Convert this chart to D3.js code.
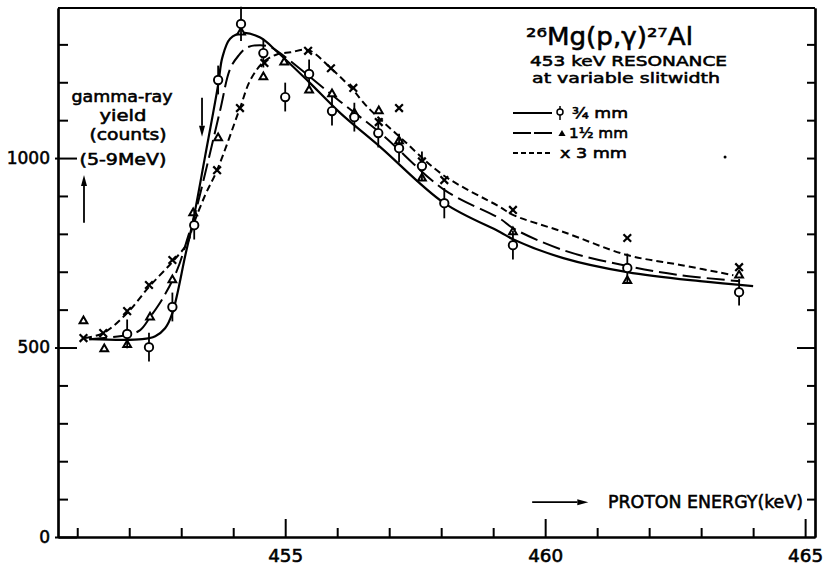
<!DOCTYPE html>
<html>
<head>
<meta charset="utf-8">
<script src="https://cdn.jsdelivr.net/npm/d3@7"></script>
<style>
  body { margin: 0; background: #fff; }
  svg text { font-family: "DejaVu Sans", sans-serif; fill: #000; stroke: #000; stroke-width: 0.55; }
  .axis .domain { stroke: #000; stroke-width: 2.2; }
  .axis .tick line { stroke: #000; stroke-width: 2; }
</style>
</head>
<body>
<svg id="chart" width="823" height="567"></svg>
<script>
// ------ Data (energy in keV, yield in counts)
var circleE = [451.96, 452.38, 452.83, 453.25, 453.71, 454.15, 454.58, 455.0, 455.46, 455.9, 456.33, 456.79, 457.19, 457.63, 458.06, 459.38, 461.58, 463.73];
var circleY = [536, 501, 607, 823, 1206, 1354, 1277, 1161, 1222, 1124, 1108, 1066, 1026, 979, 881, 770, 710, 646];
var circleErr = [38, 38, 38, 38, 38, 45, 38, 38, 38, 38, 38, 38, 38, 38, 40, 38, 38, 35];

var triE = [451.12, 451.52, 451.96, 452.4, 452.83, 453.23, 453.71, 454.15, 454.58, 454.98, 455.46, 455.9, 456.33, 456.8, 457.19, 457.63, 459.38, 461.58, 463.73];
var triY = [570, 496, 507, 580, 678, 855, 1053, 1332, 1214, 1253, 1179, 1169, 1118, 1124, 1045, 947, 805, 676, 691];

var crossE = [451.12, 451.5, 451.96, 452.38, 452.83, 453.69, 454.13, 454.6, 455.44, 455.88, 456.31, 456.8, 457.19, 457.63, 458.06, 459.38, 461.58, 463.73];
var crossY = [525, 538, 596, 665, 731, 968, 1132, 1251, 1283, 1237, 1185, 1095, 1132, 991, 942, 863, 789, 712];

// fitted curves, 3/4 mm (solid), 1 1/2 mm (long dash), 3 mm (short dash)
var solidE = [451.23, 452.25, 452.5, 452.69, 452.83, 453.08, 453.23, 453.46, 453.71, 453.79, 453.94, 454.19, 454.52, 454.85, 455.44, 456.05, 456.83, 458.06, 459.13, 459.38, 460.35, 461.58, 462.98, 464.0];
var solidY = [522, 522, 530, 551, 591, 744, 836, 1005, 1193, 1265, 1315, 1330, 1318, 1280, 1203, 1120, 1029, 881, 805, 786, 736, 699, 675, 662];

var longE = [451.23, 451.96, 452.21, 452.4, 452.65, 452.92, 453.13, 453.27, 453.5, 453.75, 453.94, 454.1, 454.27, 454.52, 454.71, 454.9, 455.29, 456.05, 456.83, 458.06, 459.13, 459.38, 460.35, 461.58, 462.6, 463.75];
var longY = [522, 533, 546, 580, 631, 704, 792, 855, 982, 1127, 1235, 1270, 1292, 1298, 1293, 1277, 1235, 1150, 1066, 916, 840, 815, 757, 715, 691, 675];

var shortE = [451.15, 451.5, 451.96, 452.38, 452.83, 453.12, 453.23, 453.46, 453.69, 454.13, 454.33, 454.58, 454.85, 455.1, 455.44, 455.88, 456.29, 456.58, 457.21, 458.04, 459.13, 459.38, 460.35, 461.58, 462.6, 463.62];
var shortY = [525, 538, 591, 660, 726, 776, 823, 902, 968, 1132, 1206, 1253, 1274, 1279, 1285, 1237, 1182, 1135, 1055, 955, 871, 850, 805, 744, 718, 691];

// ------ Axis ticks
var xMinorTicks = [451, 452, 453, 454, 456, 457, 458, 459, 461, 462, 463, 464];
var xMajorTicks = [455, 460, 465];
var yMinorTicks = [100, 200, 300, 400, 600, 700, 800, 900, 1100, 1200, 1300];
var yMajorTicks = [0, 500, 1000];
var yRightTicks = [100, 200, 300, 400, 600, 700, 800, 900, 1000, 1100, 1200, 1300];

// arrows (energy, yield) and the stray speck of the original plate
var upArrow = [[451.13, 829], [451.13, 955]];
var downArrow = [[453.40, 1159], [453.40, 1056]];
var rightArrow = [[459.75, 92], [460.83, 92]];
var specks = [[463.46, 1003]];

var svg = d3.select("#chart");
svg.append("rect").attr("width", 823).attr("height", 567).attr("fill", "#fff");

var x = d3.scaleLinear().domain([450.63, 465.19]).range([58, 815]);
var y = d3.scaleLinear().domain([0, 1396]).range([537, 8]);

// ------ Axes (all ticks point into the frame)
svg.append("g").attr("class", "axis").attr("transform", "translate(0,537)")
  .call(d3.axisBottom(x).tickValues(xMinorTicks).tickSize(-9).tickSizeOuter(0).tickFormat(""));
svg.append("g").attr("class", "axis").attr("transform", "translate(0,537)")
  .call(d3.axisBottom(x).tickValues(xMajorTicks).tickSize(-18).tickSizeOuter(0).tickPadding(13).tickFormat(d3.format("d")))
  .selectAll("text").style("font-size", "17px").attr("textLength", 35).attr("lengthAdjust", "spacingAndGlyphs");

svg.append("g").attr("class", "axis").attr("transform", "translate(58,0)")
  .call(d3.axisLeft(y).tickValues(yMinorTicks).tickSize(-10).tickSizeOuter(0).tickFormat(""));
var yMaj = svg.append("g").attr("class", "axis").attr("transform", "translate(58,0)")
  .call(d3.axisLeft(y).tickValues(yMajorTicks).tickSize(-19).tickSizeOuter(0).tickPadding(8).tickFormat(d3.format("d")));
yMaj.selectAll("text").style("font-size", "17px");
yMaj.selectAll(".tick line").attr("x1", -3);

svg.append("g").attr("class", "axis").attr("transform", "translate(815,0)")
  .call(d3.axisRight(y).tickValues(yRightTicks).tickSize(-8).tickSizeOuter(0).tickFormat(""));
svg.append("g").attr("class", "axis").attr("transform", "translate(815,0)")
  .call(d3.axisRight(y).tickValues([500]).tickSize(-18).tickSizeOuter(0).tickFormat(""));

// top of the frame
svg.append("line")
  .attr("x1", x.range()[0]).attr("x2", x.range()[1])
  .attr("y1", y.range()[1]).attr("y2", y.range()[1])
  .attr("stroke", "#000").attr("stroke-width", 2.2);

// ------ Curves
var line = d3.line()
  .x(function(d) { return x(d[0]); })
  .y(function(d) { return y(d[1]); })
  .curve(d3.curveCatmullRom.alpha(0.5));

function pairs(a, b) { return a.map(function(v, i) { return [v, b[i]]; }); }

svg.append("path").datum(pairs(shortE, shortY))
  .attr("d", line).attr("fill", "none").attr("stroke", "#000")
  .attr("stroke-width", 2).attr("stroke-dasharray", "7,4");
svg.append("path").datum(pairs(longE, longY))
  .attr("d", line).attr("fill", "none").attr("stroke", "#000")
  .attr("stroke-width", 2).attr("stroke-dasharray", "18,6");
svg.append("path").datum(pairs(solidE, solidY))
  .attr("d", line).attr("fill", "none").attr("stroke", "#000")
  .attr("stroke-width", 2.2);

// ------ Points
var triSym = d3.symbol().type(d3.symbolTriangle).size(26);
var xSym = d3.symbol().type(d3.symbolX).size(40);

svg.selectAll(".tri").data(pairs(triE, triY)).enter().append("path")
  .attr("class", "tri")
  .attr("transform", function(d) { return "translate(" + x(d[0]) + "," + y(d[1]) + ")"; })
  .attr("d", triSym).attr("fill", "#fff").attr("stroke", "#000").attr("stroke-width", 2);

svg.selectAll(".cross").data(pairs(crossE, crossY)).enter().append("path")
  .attr("class", "cross")
  .attr("transform", function(d) { return "translate(" + x(d[0]) + "," + y(d[1]) + ")"; })
  .attr("d", xSym).attr("fill", "none").attr("stroke", "#000").attr("stroke-width", 2.2);

var circData = circleE.map(function(e, i) { return {e: e, v: circleY[i], err: circleErr[i]}; });
svg.selectAll(".ebar").data(circData).enter().append("line")
  .attr("class", "ebar")
  .attr("x1", function(d) { return x(d.e); }).attr("x2", function(d) { return x(d.e); })
  .attr("y1", function(d) { return y(d.v + d.err); }).attr("y2", function(d) { return y(d.v - d.err); })
  .attr("stroke", "#000").attr("stroke-width", 1.8);
svg.selectAll(".dot").data(circData).enter().append("circle")
  .attr("class", "dot")
  .attr("cx", function(d) { return x(d.e); }).attr("cy", function(d) { return y(d.v); })
  .attr("r", 4.2).attr("fill", "#fff").attr("stroke", "#000").attr("stroke-width", 1.9);

svg.selectAll(".speck").data(specks).enter().append("circle")
  .attr("cx", function(d) { return x(d[0]); }).attr("cy", function(d) { return y(d[1]); })
  .attr("r", 1.5).attr("fill", "#000");

// ------ Arrows
function arrow(p, headLen) {
  var x0 = x(p[0][0]), y0 = y(p[0][1]), x1 = x(p[1][0]), y1 = y(p[1][1]);
  var a = Math.atan2(y1 - y0, x1 - x0);
  var bx = x1 - headLen * Math.cos(a), by = y1 - headLen * Math.sin(a);
  svg.append("line").attr("x1", x0).attr("y1", y0).attr("x2", bx).attr("y2", by)
    .attr("stroke", "#000").attr("stroke-width", 1.8);
  var w = 3;
  svg.append("path")
    .attr("d", "M" + x1 + "," + y1 +
      "L" + (bx + w * Math.sin(a)) + "," + (by - w * Math.cos(a)) +
      "L" + (bx - w * Math.sin(a)) + "," + (by + w * Math.cos(a)) + "Z")
    .attr("fill", "#000");
}
arrow(upArrow, 11);
arrow(downArrow, 11);
arrow(rightArrow, 11);

// ------ Texts
// several lines in one text element, each tspan placed on its own
function block(lines, size) {
  var t = svg.append("text").style("font-size", size + "px");
  lines.forEach(function(l) {
    var s = t.append("tspan").attr("x", l.x).attr("y", l.y)
      .attr("text-anchor", l.anchor || "start").text(l.text);
    if (l.size) s.style("font-size", l.size + "px");
    if (l.len) s.attr("textLength", l.len).attr("lengthAdjust", "spacingAndGlyphs");
  });
  return t;
}

block([
  {text: "gamma-ray", x: 122, y: 102, anchor: "middle", len: 101},
  {text: "yield", x: 123, y: 121, anchor: "middle", len: 47},
  {text: "(counts)", x: 128, y: 140, anchor: "middle", len: 77},
  {text: "(5-9MeV)", x: 123, y: 165, anchor: "middle", len: 87}
], 15.5);

block([{text: "PROTON ENERGY(keV)", x: 608, y: 508, len: 195}], 17.5);

// reaction, with the mass numbers as superscript characters
block([{text: "\u00b2\u2076Mg(p,\u03b3)\u00b2\u2077Al", x: 526, y: 45, len: 167}], 24);

block([{text: "453 keV  RESONANCE", x: 530, y: 66, len: 197}], 14.5);
block([{text: "at variable  slitwidth", x: 532, y: 83, len: 188}], 14.5);

// legend
var legendRows = [
  {y: 113, dash: null, text: "\u00be mm", tx: 572, len: 56},
  {y: 133, dash: "18,3", text: "1\u00bd mm", tx: 569, len: 59},
  {y: 153, dash: "5,3", text: "x 3   mm", tx: 560, len: 67}
];
legendRows.forEach(function(r) {
  svg.append("line").attr("x1", 513).attr("x2", 552).attr("y1", r.y).attr("y2", r.y)
    .attr("stroke", "#000").attr("stroke-width", 2)
    .attr("stroke-dasharray", r.dash);
});
svg.append("line").attr("x1", 560).attr("x2", 560).attr("y1", 106).attr("y2", 120)
  .attr("stroke", "#000").attr("stroke-width", 1.5);
svg.append("circle").attr("cx", 560).attr("cy", 112).attr("r", 3)
  .attr("fill", "#fff").attr("stroke", "#000").attr("stroke-width", 1.5);
svg.append("path").attr("transform", "translate(562,134)")
  .attr("d", d3.symbol().type(d3.symbolTriangle).size(22)).attr("fill", "#000");
block(legendRows.map(function(r) {
  return {text: r.text, x: r.tx, y: r.y + 5, len: r.len};
}), 14);
</script>
</body>
</html>
